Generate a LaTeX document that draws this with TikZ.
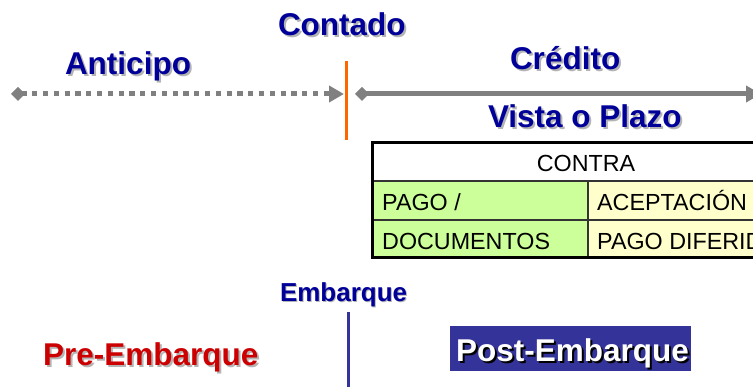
\documentclass[tikz,border=0pt]{standalone}
\usepackage{fontspec}
\setmainfont{Liberation Sans}
\usetikzlibrary{arrows.meta}
\definecolor{titleblue}{HTML}{000099}
\definecolor{shadowgray}{HTML}{B4B4B4}
\definecolor{linegray}{HTML}{808080}
\definecolor{markorange}{HTML}{FF6600}
\definecolor{embblue}{HTML}{333399}
\definecolor{prered}{HTML}{CC0000}
\definecolor{cellgreen}{HTML}{CCFF99}
\definecolor{cellyellow}{HTML}{FFFFCC}
\definecolor{gridgray}{HTML}{333333}
\newcommand{\bigbold}{\fontsize{31.5}{36}\selectfont\bfseries}
\newcommand{\midbold}{\fontsize{26}{30}\selectfont\bfseries}
\newcommand{\cellfont}{\fontsize{23.3}{27}\selectfont}
% text with a drop shadow, set as one box
\newcommand{\shtext}[3][2pt]{\rlap{\hspace{#1}\raisebox{-#1}{\textcolor{#2}{#3}}}#3}
\begin{document}
\begin{tikzpicture}[x=1pt,y=-1pt,
  txt/.style={inner sep=0pt, outer sep=0pt, anchor=base west},
  title/.style={txt, font=\bigbold, text=titleblue},
  celltxt/.style={inner sep=0pt, anchor=base west, font=\cellfont, text=black},
  timeline/.style={line width=5pt, draw=linegray, line cap=butt,
    {Diamond[length=14pt,width=14pt]}-{Triangle[length=15pt,width=16pt]}},
  grid/.style={draw=gridgray, line width=1.5pt},
]
\clip (0,0) rectangle (753,387);

% titles with shadows
\node[title] (contado) at (278,36) {\shtext{shadowgray}{Contado}};
\node[title] (anticipo) at (65,75) {\shtext{shadowgray}{Anticipo}};
\node[title] (credito) at (510,70) {\shtext{shadowgray}{Crédito}};
\node[title] (vista) at (488,128) {\shtext{shadowgray}{Vista o Plazo}};

% timelines
\coordinate (antA) at (11,94);
\coordinate (antB) at (344,94);
\coordinate (creA) at (355,94);
\coordinate (creB) at (761,94);
\draw[timeline, dash pattern=on 5.2pt off 5.6pt] (antA) -- (antB);
\draw[timeline] (creA) -- (creB);

% contado marker
\coordinate (orTop) at (346,61);
\coordinate (orBot) at (346,140);
\draw[markorange, line width=3pt] (orTop) -- (orBot);

% table
\fill[white] (372,143) rectangle (810,181);
\fill[cellgreen] (372,181) rectangle (588,258);
\fill[cellyellow] (588,181) rectangle (810,258);
\draw[grid] (372,181) -- (810,181);
\draw[grid] (372,220) -- (810,220);
\draw[grid] (588,181) -- (588,258);
\draw[black, line width=3pt] (372,143) rectangle (810,258);
\node[inner sep=0pt, anchor=base, font=\cellfont] (contra) at (586,172) {CONTRA};
\node[celltxt] (pago) at (382,211) {PAGO /};
\node[celltxt] (docs) at (382,250) {DOCUMENTOS};
\node[celltxt] (acep) at (597,211) {ACEPTACIÓN};
\node[celltxt] (dif) at (597,250) {PAGO DIFERIDO};

% embarque
\node[txt, font=\midbold, text=titleblue] (emb) at (280,302) {\shtext[1pt]{shadowgray}{Embarque}};
\coordinate (embTop) at (348,312);
\coordinate (embBot) at (348,390);
\draw[embblue, line width=3pt] (embTop) -- (embBot);

\node[txt, font=\bigbold, text=prered] (pre) at (43,366) {\shtext{shadowgray}{Pre-Embarque}};

\fill[embblue] (450,326) rectangle (691,371);
\node[txt, font=\bigbold, text=white] (post) at (456,362) {\shtext{black}{Post-Embarque}};
\end{tikzpicture}
\end{document}
